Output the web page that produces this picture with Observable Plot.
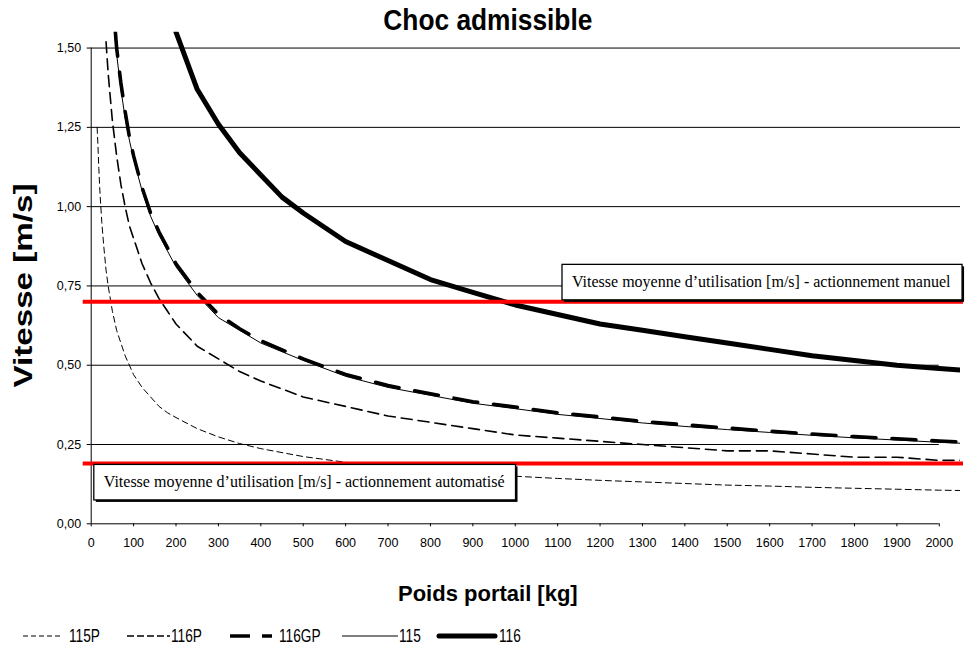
<!DOCTYPE html>
<html><head><meta charset="utf-8">
<script src="https://cdn.jsdelivr.net/npm/d3@7"></script>
<script src="https://cdn.jsdelivr.net/npm/@observablehq/plot@0.6"></script>
<style>
body{margin:0;background:#fff;}
#wrap{position:relative;width:967px;height:648px;overflow:hidden;font-family:"Liberation Sans",Arial,sans-serif;}
.item{position:absolute;top:626px;height:20px;display:flex;align-items:center;white-space:nowrap;}
.item span{font-size:19px;display:inline-block;transform-origin:left center;transform:scaleX(0.72);color:#000;}
.item svg{display:block;}
</style></head><body><div id="wrap"></div>
<script>
// ---- data ----
const titleText = "Choc admissible";
const yLabel = "Vitesse [m/s]";
const xLabel = "Poids portail [kg]";
const xTicks = [0,100,200,300,400,500,600,700,800,900,1000,1100,1200,1300,1400,1500,1600,1700,1800,1900,2000];
const yTicks = [0,0.25,0.5,0.75,1.0,1.25,1.5];
const seriesNames = ["115P","116P","116GP","115","116"];

const x115P = [14,16,18,20,25,30,35,40,50,60,70,80,90,100,120,140,160,180,200,250,300,350,400,500,600,700,800,900,1000,1100,1200,1300,1400,1500,1600,1700,1800,1900,2000,2050];
const v115P = [1.25,1.19,1.12,1.06,0.95,0.87,0.80,0.75,0.67,0.61,0.57,0.53,0.50,0.47,0.43,0.40,0.37,0.35,0.335,0.30,0.274,0.253,0.237,0.212,0.194,0.179,0.168,0.158,0.150,0.143,0.137,0.132,0.127,0.122,0.119,0.115,0.112,0.109,0.106,0.105];

const x116P = [35,40,50,60,70,80,90,100,120,140,160,180,200,250,300,350,400,500,600,700,800,900,1000,1100,1200,1300,1400,1500,1600,1700,1800,1900,2000,2050];
const v116P = [1.52,1.42,1.27,1.16,1.07,1.00,0.94,0.90,0.82,0.76,0.71,0.67,0.63,0.56,0.52,0.48,0.45,0.40,0.37,0.34,0.32,0.30,0.28,0.27,0.26,0.25,0.24,0.23,0.23,0.22,0.21,0.21,0.20,0.20];

const x116GP = [57,60,70,80,90,100,120,140,160,180,200,250,300,350,400,500,600,700,800,900,1000,1100,1200,1300,1400,1500,1600,1700,1800,1900,2000,2050];
const v116GP = [1.55,1.50,1.39,1.30,1.22,1.16,1.06,0.98,0.92,0.87,0.82,0.73,0.66,0.615,0.577,0.52,0.471,0.436,0.41,0.385,0.368,0.35,0.337,0.323,0.312,0.302,0.292,0.283,0.275,0.268,0.261,0.258];

const x115 = [55,60,70,80,90,100,120,140,160,180,200,250,300,350,400,500,600,700,800,900,1000,1100,1200,1300,1400,1500,1600,1700,1800,1900,2000,2050];
const v115 = [1.55,1.48,1.37,1.28,1.21,1.15,1.05,0.97,0.91,0.86,0.81,0.72,0.65,0.61,0.57,0.515,0.465,0.43,0.405,0.38,0.363,0.345,0.332,0.318,0.307,0.297,0.288,0.279,0.271,0.264,0.257,0.254];

const x116 = [200,250,300,350,400,450,500,600,700,800,900,1000,1100,1200,1300,1400,1500,1600,1700,1800,1900,2000,2050];
const v116 = [1.55,1.37,1.26,1.17,1.10,1.03,0.98,0.89,0.83,0.77,0.73,0.69,0.66,0.63,0.61,0.59,0.57,0.55,0.53,0.515,0.50,0.49,0.485];

const refValues = [0.70, 0.19];
const refLabels = ["Vitesse moyenne d\u2019utilisation [m/s] - actionnement manuel",
                   "Vitesse moyenne d\u2019utilisation [m/s] - actionnement automatis\u00e9"];

// ---- styles ----
const lineStyle = {
  "115P":  {w:1,   dash:"6,4"},
  "116P":  {w:1.6, dash:"11,6"},
  "116GP": {w:3.6, dash:"24,16"},
  "115":   {w:1,   dash:null},
  "116":   {w:5,   dash:null}
};

const raw = {"115P":[x115P,v115P],"116P":[x116P,v116P],"116GP":[x116GP,v116GP],"115":[x115,v115],"116":[x116,v116]};
const rows = [];
for (const s of seriesNames) { const [xs,vs] = raw[s]; xs.forEach((x,i)=>rows.push({s, x, v:vs[i]})); }
const refs = refValues.map((v,i)=>({v, label: refLabels[i]}));
const drawOrder = ["115P","116P","115","116GP","116"];

const fmt = d => d.toFixed(2).replace(".", ",");
const xMax = d3.max(xTicks), yMax = d3.max(yTicks);

const svg = Plot.plot({
  width: 967, height: 648,
  marginLeft: 90.7, marginRight: 7, marginTop: 31.7, marginBottom: 124.7,
  x: {domain: [0, 2050]},
  y: {domain: [0, 1.55]},
  style: {fontFamily: "'Liberation Sans', Arial, sans-serif", fontSize: "12.5px", color: "#000", background: "#fff"},
  marks: [
    Plot.ruleY(yTicks.filter(d => d >= 0.75), {stroke: "#000", strokeWidth: 1}),
    Plot.ruleY(yTicks.filter(d => d > 0 && d < 0.75), {x1: 0, x2: xMax, stroke: "#000", strokeWidth: 1}),
    Plot.ruleX([0], {y1: 0, y2: yMax, stroke: "#000"}),
    Plot.ruleY([0], {x1: 0, x2: xMax, stroke: "#000"}),
    Plot.axisY({ticks: yTicks, tickFormat: fmt, tickSize: 4, tickPadding: 6, label: null}),
    Plot.axisX({ticks: xTicks, tickFormat: d => String(d), tickSize: 3, tickPadding: 11.5, label: null}),
    ...drawOrder.map(s => Plot.line(rows.filter(d => d.s === s), {
      x: "x", y: "v", stroke: "#000", strokeWidth: lineStyle[s].w,
      strokeDasharray: lineStyle[s].dash || undefined, clip: true
    })),
    Plot.ruleY(refs, {y: "v", stroke: "#ff0000", strokeWidth: 4, insetLeft: -8, insetRight: -3}),
    Plot.text(refs.slice(0,1), {y: "v", text: "label", frameAnchor: "right", textAnchor: "end", lineAnchor: "middle",
      dx: -10, dy: -20.3, fontFamily: "'Liberation Serif', 'Times New Roman', serif", fontSize: 16, fill: "#000"}),
    Plot.text(refs.slice(1), {y: "v", text: "label", frameAnchor: "left", textAnchor: "start", lineAnchor: "middle",
      dx: 12.6, dy: 18, fontFamily: "'Liberation Serif', 'Times New Roman', serif", fontSize: 16, fill: "#000"}),
    Plot.text([titleText], {frameAnchor: "top", lineAnchor: "middle", dx: -38, dy: -11, fontSize: 29, fontWeight: "bold"}),
    Plot.text([xLabel], {frameAnchor: "bottom", lineAnchor: "middle", dx: -38, dy: 69.7, fontSize: 22, fontWeight: "bold"}),
    Plot.text([yLabel], {frameAnchor: "left", lineAnchor: "middle", textAnchor: "start", rotate: -90, dx: -67.7, dy: 109.5, fontSize: 26, fontWeight: "bold"})
  ]
});
const wrap = document.getElementById("wrap");
wrap.appendChild(svg);

// condense / stretch some texts to the reference proportions
const fit = (txt, len) => d3.select(svg).selectAll("text").filter(function(){ return this.textContent === txt; })
  .attr("textLength", len).attr("lengthAdjust", "spacingAndGlyphs");
fit(titleText, 209);
fit(yLabel, 204);

// boxes behind annotations
const sr = svg.getBoundingClientRect();
d3.select(svg).selectAll("text").filter(function(){ return refLabels.includes(this.textContent); }).each(function(){
  const r = this.getBoundingClientRect();
  const x = r.left - sr.left - 10, w = r.width + 21;
  const cy = r.top - sr.top + r.height/2;
  const h = 35.5, y = cy - h/2 + 0.5;
  const markG = this.closest("svg > g") || this.parentNode;
  const g = document.createElementNS("http://www.w3.org/2000/svg", "g");
  const sh = document.createElementNS("http://www.w3.org/2000/svg", "rect");
  sh.setAttribute("x", x + 2); sh.setAttribute("y", y + 2); sh.setAttribute("width", w); sh.setAttribute("height", h); sh.setAttribute("fill", "#000");
  const bx = document.createElementNS("http://www.w3.org/2000/svg", "rect");
  bx.setAttribute("x", x); bx.setAttribute("y", y); bx.setAttribute("width", w); bx.setAttribute("height", h);
  bx.setAttribute("fill", "#fff"); bx.setAttribute("stroke", "#000"); bx.setAttribute("stroke-width", 1.3);
  g.appendChild(sh); g.appendChild(bx);
  markG.parentNode.insertBefore(g, markG);
});

// legend
const legendPos = {"115P":[23,40], "116P":[127,43], "116GP":[230,42], "115":[342,56], "116":[436,62]};
for (const s of seriesNames) {
  const [left, w] = legendPos[s];
  const st = lineStyle[s];
  const div = document.createElement("div");
  div.className = "item";
  div.style.left = left + "px";
  const lw = s === "115P" ? 1 : s === "116P" ? 1.6 : st.w;
  const dash = s === "115P" ? "5,3" : s === "116P" ? "7,3" : s === "116GP" ? "20,12" : "";
  div.innerHTML = `<svg width="${w}" height="20"><line x1="${st.w>=5?3:0}" x2="${st.w>=5?w-3:w}" y1="10" y2="10" stroke="#000" stroke-width="${lw}" ${dash?`stroke-dasharray="${dash}"`:""} stroke-linecap="${st.w>=5?'round':'butt'}"/></svg><span style="margin-left:${s==='115P'?6:s==='116GP'?7:1}px">${s}</span>`;
  wrap.appendChild(div);
}
</script>
</body></html>
